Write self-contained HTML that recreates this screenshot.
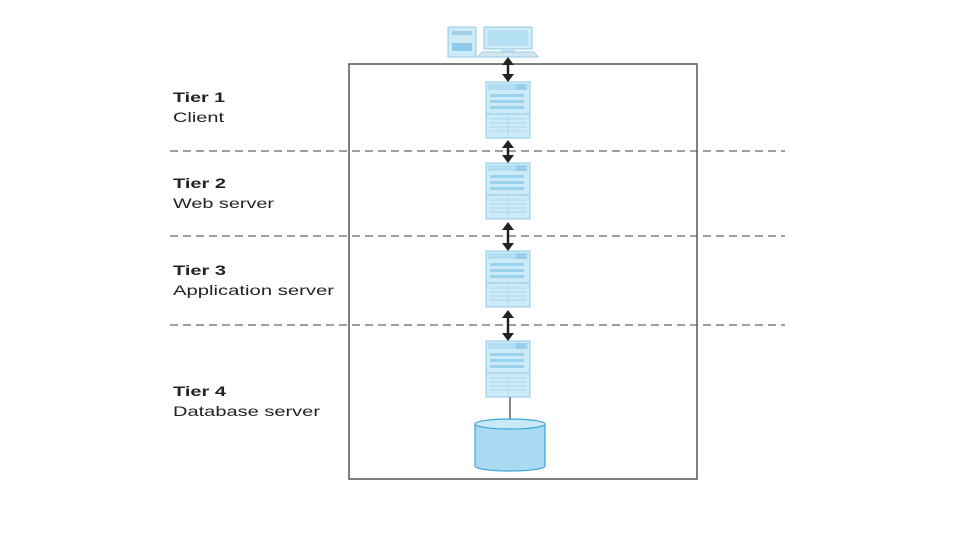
<!DOCTYPE html>
<html><head><meta charset="utf-8"><style>body{margin:0;background:#fff}svg{display:block}</style></head><body>
<svg width="960" height="540" viewBox="0 0 960 540" xmlns="http://www.w3.org/2000/svg" font-family="Liberation Sans, sans-serif">
<defs>
<g id="srv">
<rect x="0" y="0" width="44" height="56" fill="#cdeaf8" stroke="#8fcbe8" stroke-width="1"/>
<rect x="2" y="2" width="40" height="6" fill="#b3ddf2"/>
<rect x="30" y="2" width="10" height="6" fill="#96cfec"/>
<rect x="4" y="12" width="34" height="3" fill="#9ad2ee"/>
<rect x="4" y="18" width="34" height="3" fill="#9ad2ee"/>
<rect x="4" y="24" width="34" height="3" fill="#9ad2ee"/>
<line x1="0" y1="32" x2="44" y2="32" stroke="#8fcbe8"/>
<g stroke="#a8daf1"><line x1="4" y1="37" x2="40" y2="37"/><line x1="4" y1="41" x2="40" y2="41"/><line x1="4" y1="45" x2="40" y2="45"/><line x1="4" y1="49" x2="40" y2="49"/><line x1="22" y1="34" x2="22" y2="54"/></g>
</g>
</defs>
<rect x="349" y="64" width="348" height="415" fill="none" stroke="#555" stroke-width="1.5"/>
<g stroke="#666" stroke-width="1.2" stroke-dasharray="8,5">
<line x1="170" y1="151" x2="785" y2="151"/>
<line x1="170" y1="236" x2="785" y2="236"/>
<line x1="170" y1="325" x2="785" y2="325"/>
</g>
<rect x="448" y="27" width="28" height="30" fill="#cfeaf7" stroke="#8fc9e6"/>
<rect x="452" y="31" width="20" height="4" fill="#9fd0ea"/>
<rect x="452" y="43" width="20" height="8" fill="#8fcbe8"/>
<rect x="484" y="27" width="48" height="22" fill="#cfeaf7" stroke="#8fc9e6"/>
<rect x="488" y="30" width="40" height="16" fill="#b5dff2"/>
<rect x="501" y="49" width="14" height="3" fill="#bfe3f4"/>
<polygon points="478,57 538,57 534,52 482,52" fill="#cfe8f4" stroke="#9fc9e0"/>
<use href="#srv" x="486" y="82"/>
<use href="#srv" x="486" y="163"/>
<use href="#srv" x="486" y="251"/>
<use href="#srv" x="486" y="341"/>
<g stroke="#222" stroke-width="2.5" fill="#222">
<line x1="508" y1="61" x2="508" y2="78"/><polygon points="502,65 514,65 508,57" stroke="none"/><polygon points="502,74 514,74 508,82" stroke="none"/>
<line x1="508" y1="144" x2="508" y2="159"/><polygon points="502,148 514,148 508,140" stroke="none"/><polygon points="502,155 514,155 508,163" stroke="none"/>
<line x1="508" y1="226" x2="508" y2="247"/><polygon points="502,230 514,230 508,222" stroke="none"/><polygon points="502,243 514,243 508,251" stroke="none"/>
<line x1="508" y1="314" x2="508" y2="337"/><polygon points="502,318 514,318 508,310" stroke="none"/><polygon points="502,333 514,333 508,341" stroke="none"/>
</g>
<line x1="510" y1="397" x2="510" y2="419" stroke="#888" stroke-width="2"/>
<path d="M475,424 L475,466 A35,5 0 0 0 545,466 L545,424" fill="#a9daf1" stroke="#3aa6d8" stroke-width="1.2"/>
<ellipse cx="510" cy="424" rx="35" ry="5" fill="#c9e9f7" stroke="#3aa6d8" stroke-width="1.2"/>
<g font-size="14" fill="#222" lengthAdjust="spacingAndGlyphs">
<text x="173" y="102" font-weight="bold" textLength="52" lengthAdjust="spacingAndGlyphs">Tier 1</text><text x="173" y="122" textLength="51" lengthAdjust="spacingAndGlyphs">Client</text>
<text x="173" y="188" font-weight="bold" textLength="53" lengthAdjust="spacingAndGlyphs">Tier 2</text><text x="173" y="208" textLength="101" lengthAdjust="spacingAndGlyphs">Web server</text>
<text x="173" y="275" font-weight="bold" textLength="53" lengthAdjust="spacingAndGlyphs">Tier 3</text><text x="173" y="295" textLength="161" lengthAdjust="spacingAndGlyphs">Application server</text>
<text x="173" y="396" font-weight="bold" textLength="53" lengthAdjust="spacingAndGlyphs">Tier 4</text><text x="173" y="416" textLength="147" lengthAdjust="spacingAndGlyphs">Database server</text>
</g>
</svg>
</body></html>
